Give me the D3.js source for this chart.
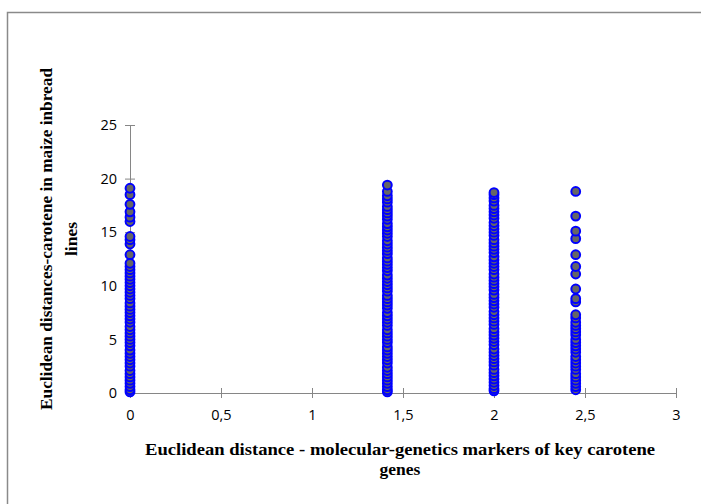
<!DOCTYPE html>
<html>
<head>
<meta charset="utf-8">
<script src="https://cdn.jsdelivr.net/npm/d3@7"></script>
<style>
  body { margin: 0; background: #fff; }
  .tick text { font-family: 'Open Sans', 'DejaVu Sans', sans-serif; font-size: 14.5px; fill: #000; }
  .axis-title { font-family: 'Liberation Serif', 'Times New Roman', serif; font-weight: bold; font-size: 17.5px; fill: #000; }
</style>
</head>
<body>
<div id="chart"></div>
<script>
// x positions of the four columns
var xGroups = [0, 1.414, 2, 2.449]

// y values
var col0 = [0.1, 0.3, 0.6, 0.9, 1.2, 1.5, 1.8, 2.1, 2.5, 2.8, 3.1, 3.4, 3.7, 4.0, 4.4, 4.7, 5.0, 5.3, 5.6, 5.9,
  6.2, 6.6, 6.9, 7.2, 7.5, 7.8, 8.1, 8.4, 8.8, 9.1, 9.4, 9.7, 10.0, 10.3, 10.6, 10.9, 11.2, 11.5, 11.8, 12.1,
  12.9, 13.9, 14.3, 14.6, 16.0, 16.4, 16.9, 17.6, 18.5, 19.1]
var col1 = [0.1, 0.3, 0.6, 0.9, 1.2, 1.5, 1.8, 2.1, 2.4, 2.8, 3.1, 3.4, 3.7, 4.0, 4.3, 4.7, 5.0, 5.3, 5.6, 5.9,
  6.3, 6.6, 6.9, 7.2, 7.5, 7.9, 8.2, 8.5, 8.8, 9.1, 9.5, 9.8, 10.1, 10.4, 10.7, 11.0, 11.4, 11.7, 12.0, 12.3,
  12.6, 13.0, 13.3, 13.6, 13.9, 14.2, 14.6, 14.9, 15.2, 15.5, 15.8, 16.2, 16.5, 16.8, 17.1, 17.4, 17.8, 18.1,
  18.4, 18.8, 19.4]
var col2 = [0.2, 0.4, 0.7, 1.0, 1.3, 1.6, 1.9, 2.2, 2.6, 2.9, 3.2, 3.5, 3.8, 4.1, 4.5, 4.8, 5.1, 5.4, 5.7, 6.0,
  6.4, 6.7, 7.0, 7.3, 7.6, 8.0, 8.3, 8.6, 8.9, 9.2, 9.6, 9.9, 10.2, 10.5, 10.8, 11.1, 11.5, 11.8, 12.1, 12.4,
  12.7, 13.1, 13.4, 13.7, 14.0, 14.3, 14.7, 15.0, 15.3, 15.6, 15.9, 16.3, 16.6, 16.9, 17.2, 17.5, 17.9, 18.2,
  18.5, 18.7]
var col3 = [0.3, 0.6, 0.9, 1.2, 1.5, 1.8, 2.2, 2.5, 2.8, 3.1, 3.4, 3.8, 4.1, 4.4, 4.7, 5.0, 5.4, 5.7, 6.0, 6.3,
  6.6, 7.0, 7.3, 8.5, 8.8, 9.7, 11.1, 11.8, 12.9, 14.4, 15.1, 16.5, 18.8]

var xTicks = [0, 0.5, 1, 1.5, 2, 2.5, 3]
var yTicks = [0, 5, 10, 15, 20, 25]

var xTitle = ['Euclidean distance - molecular-genetics markers of key carotene', 'genes']
var yTitle = ['Euclidean distances-carotene in maize inbread', 'lines']

// build point table from the columns
var columns = [col0, col1, col2, col3]
var points = []
columns.forEach(function (col, i) {
  col.forEach(function (v) {
    points.push({ x: xGroups[i], y: v })
  })
})

var svgWidth = 701
var svgHeight = 504

var svg = d3.select('#chart')
  .append('svg')
  .attr('width', svgWidth)
  .attr('height', svgHeight)

// outer chart frame
svg.append('rect')
  .attr('x', 7.5)
  .attr('y', 12.5)
  .attr('width', 720)
  .attr('height', 520)
  .attr('fill', 'none')
  .attr('stroke', '#8a8a8a')
  .attr('stroke-width', 1.5)

var xScale = d3.scaleLinear().domain([0, 3]).range([130, 676])
var yScale = d3.scaleLinear().domain([0, 25]).range([393, 125])

var axisColor = '#868686'

// x axis
var xAxis = svg.append('g')
  .attr('transform', 'translate(0,' + yScale(0) + ')')
  .call(d3.axisBottom(xScale).tickValues(xTicks).tickSize(5).tickPadding(12)
    .tickFormat(function (d) { return String(d).replace('.', ',') }))
xAxis.select('.domain').attr('stroke', axisColor)
xAxis.selectAll('.tick line').attr('stroke', axisColor).attr('y1', -5).attr('y2', 5)

// y axis
var yAxis = svg.append('g')
  .attr('transform', 'translate(' + xScale(0) + ',0)')
  .call(d3.axisLeft(yScale).tickValues(yTicks).tickSize(5).tickPadding(8))
yAxis.select('.domain').attr('stroke', axisColor)
yAxis.selectAll('.tick line').attr('stroke', axisColor).attr('x1', -5).attr('x2', 5)

// points
svg.append('g')
  .selectAll('circle')
  .data(points)
  .enter()
  .append('circle')
  .attr('cx', d => xScale(d.x))
  .attr('cy', d => yScale(d.y))
  .attr('r', 4.4)
  .attr('fill', '#666666')
  .attr('stroke', '#0000ff')
  .attr('stroke-width', 2)

// axis titles
svg.append('text')
  .attr('class', 'axis-title')
  .attr('text-anchor', 'middle')
  .selectAll('tspan')
  .data(xTitle)
  .enter()
  .append('tspan')
  .attr('x', 400)
  .attr('y', (d, i) => 455 + i * 20)
  .attr('textLength', (d, i) => i === 0 ? 510 : null)
  .attr('lengthAdjust', 'spacingAndGlyphs')
  .text(d => d)

svg.append('text')
  .attr('class', 'axis-title')
  .attr('text-anchor', 'middle')
  .attr('transform', 'translate(52,239) rotate(-90)')
  .selectAll('tspan')
  .data(yTitle)
  .enter()
  .append('tspan')
  .attr('x', 0)
  .attr('y', (d, i) => i * 25)
  .attr('textLength', (d, i) => i === 0 ? 342 : null)
  .attr('lengthAdjust', 'spacingAndGlyphs')
  .text(d => d)
</script>
</body>
</html>
